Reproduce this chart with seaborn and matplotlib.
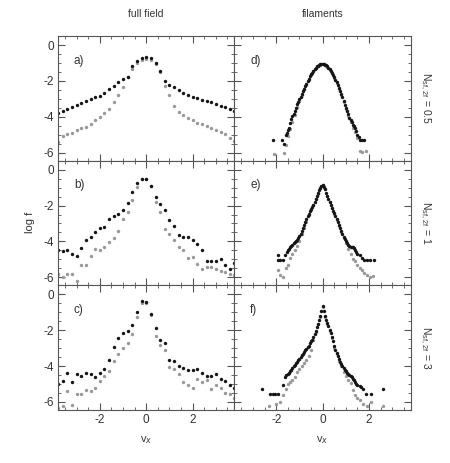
import numpy as np
import matplotlib
matplotlib.use("Agg")
import matplotlib.pyplot as plt
import seaborn as sns
from matplotlib.ticker import MultipleLocator

# ---- full field (left column): binned log f, black = all, grey = second sample
v_bins = np.round(np.arange(-3.8, 3.81, 0.2), 1)

a_black = [-3.79, -3.68, -3.57, -3.46, -3.35, -3.24, -3.13, -3.02, -2.91, -2.82,
           -2.67, -2.47, -2.28, -2.08, -1.90, -1.77, -1.16, -0.88, -0.74, -0.66,
           -0.74, -0.98, -1.47, -1.99, -2.21, -2.36, -2.50, -2.65, -2.76, -2.87,
           -2.96, -3.06, -3.13, -3.20, -3.28, -3.37, -3.46, -3.57, -3.65]
a_grey = [-5.40, -5.05, -4.95, -4.88, -4.75, -4.65, -4.55, -4.40, -4.20, -4.00,
          -3.80, -3.55, -3.20, -2.80, -2.35, -1.80, -1.35, -1.00, -0.85, -0.78,
          -0.85, -1.05, -1.50, -2.30, -2.80, -3.40, -3.72, -3.90, -4.05, -4.20,
          -4.32, -4.40, -4.50, -4.62, -4.75, -4.85, -4.95, -5.20, -5.35]

b_black = [-4.50, -4.53, -4.50, -4.72, -4.83, -4.36, -3.90, -3.78, -3.50, -3.24,
           -3.18, -2.75, -2.57, -2.49, -2.25, -1.87, -1.27, -0.75, -0.50, -0.50,
           -0.90, -1.55, -1.93, -2.25, -2.80, -3.15, -3.65, -3.75, -3.75, -3.93,
           -4.15, -4.50, -5.10, -5.10, -5.10, -4.96, -5.30, -5.52, -5.20]
b_grey = [-5.80, -5.96, -5.84, -5.80, -6.18, -5.34, -5.30, -4.83, -4.44, -4.50,
          -4.30, -4.03, -3.80, -3.43, -2.77, -2.34, -1.69, -0.97, -0.50, -0.50,
          -0.90, -1.82, -2.34, -3.28, -3.61, -3.93, -4.30, -4.46, -4.93, -4.87,
          -5.24, -5.52, -5.43, -5.43, -5.52, -5.65, -5.70, -5.80, -5.90]

c_black = [-4.98, -4.83, -4.36, -4.88, -4.46, -4.55, -4.38, -4.42, -4.60, -4.38,
           -4.14, -3.64, -2.93, -2.43, -2.13, -2.06, -1.72, -0.98, -0.38, -0.42,
           -1.10, -1.85, -2.56, -2.74, -3.64, -3.73, -4.01, -4.10, -4.23, -4.23,
           -4.14, -4.38, -4.57, -4.57, -4.46, -4.70, -4.85, -5.07, -5.20]
c_grey = [-6.35, -6.22, -5.39, -6.19, -5.57, -5.57, -5.31, -5.39, -5.20, -4.85,
          -4.55, -4.27, -3.73, -3.30, -2.99, -2.69, -2.24, -1.26, -0.47, -0.51,
          -1.16, -2.34, -2.84, -3.08, -4.08, -4.14, -4.46, -4.88, -5.07, -5.22,
          -4.70, -4.88, -4.79, -5.26, -5.07, -5.20, -5.53, -5.57, -5.80]

# ---- filaments (right column): fine bins in the core, sparse tails
v_fine = np.round(np.arange(-1.5, 1.501, 0.05), 2)
v_mid = np.round(np.arange(-1.5, 1.501, 0.1), 1)

d_black = [-4.75, -4.60, -4.35, -4.15, -3.95, -3.82, -3.65, -3.50, -3.30, -3.15,
           -3.02, -2.88, -2.72, -2.58, -2.43, -2.30, -2.16, -2.02, -1.88, -1.75,
           -1.63, -1.53, -1.43, -1.34, -1.26, -1.19, -1.14, -1.10, -1.07, -1.05,
           -1.05,
           -1.06, -1.09, -1.13, -1.19, -1.26, -1.35, -1.45, -1.56, -1.68, -1.80,
           -1.93, -2.08, -2.24, -2.40, -2.57, -2.73, -2.90, -3.10, -3.35, -3.50,
           -3.70, -3.85, -4.05, -4.20, -4.30, -4.45, -4.50, -4.65, -4.80, -5.00]
d_grey = [-5.05, -4.70, -4.30, -3.90, -3.45, -3.10, -2.78, -2.47, -2.20, -1.92,
          -1.66, -1.46, -1.28, -1.16, -1.09, -1.06, -1.10, -1.20, -1.37, -1.58,
          -1.83, -2.12, -2.44, -2.78, -3.15, -3.55, -3.95, -4.30, -4.60, -4.85,
          -5.20]
d_tail_x = [-2.15, -1.75, -1.65, -1.60, -1.55, 1.55, 1.62, 1.70, 1.80]
d_tail_y = [-5.30, -5.30, -5.50, -5.00, -4.90, -5.10, -5.30, -5.30, -5.30]
d_gtail_x = [-2.10, -1.65, -1.60, 1.60, 1.70, 1.85]
d_gtail_y = [-6.05, -6.00, -5.60, -5.90, -5.95, -5.90]

e_black = [-4.50, -4.43, -4.33, -4.23, -4.18, -4.10, -4.05, -3.97, -3.90, -3.80,
           -3.70, -3.58, -3.43, -3.27, -3.10, -2.93, -2.75, -2.60, -2.45, -2.33,
           -2.20, -2.08, -1.95, -1.80, -1.63, -1.47, -1.30, -1.15, -1.02, -0.92,
           -0.85,
           -0.95, -1.08, -1.28, -1.45, -1.62, -1.78, -1.95, -2.12, -2.28, -2.43,
           -2.58, -2.74, -2.90, -3.07, -3.24, -3.40, -3.57, -3.73, -3.86, -3.98,
           -4.07, -4.18, -4.28, -4.30, -4.32, -4.30, -4.35, -4.50, -4.60, -4.70]
e_grey = [-5.30, -4.90, -4.70, -4.50, -4.25, -3.95, -3.60, -3.25, -2.90, -2.55,
          -2.25, -1.98, -1.66, -1.33, -1.03, -0.86, -1.10, -1.47, -1.80, -2.15,
          -2.47, -2.80, -3.15, -3.50, -3.82, -4.10, -4.40, -4.70, -4.96, -5.10,
          -5.34]
e_tail_x = [-1.92, -1.92, -1.82, -1.72, -1.62, -1.55, 1.60, 1.70, 1.78, 1.90, 2.05, 2.20]
e_tail_y = [-4.78, -5.06, -5.06, -5.06, -4.75, -4.60, -4.78, -4.90, -5.06, -5.06, -5.06, -5.06]
e_gtail_x = [-1.92, -1.85, -1.70, -1.60, 1.60, 1.70, 1.80, 1.90, 2.02, 2.15]
e_gtail_y = [-5.62, -5.90, -6.00, -5.50, -5.50, -5.62, -5.75, -5.85, -6.00, -5.95]

f_black = [-4.45, -4.37, -4.28, -4.20, -4.10, -4.02, -3.93, -3.85, -3.76, -3.67,
           -3.58, -3.49, -3.40, -3.30, -3.22, -3.13, -3.05, -2.96, -2.86, -2.74,
           -2.63, -2.52, -2.40, -2.20, -2.02, -1.83, -1.63, -1.43, -1.20, -0.95,
           -0.65,
           -0.95, -1.20, -1.42, -1.60, -1.78, -1.97, -2.15, -2.37, -2.63, -2.90,
           -3.10, -3.28, -3.45, -3.60, -3.75, -3.88, -4.00, -4.10, -4.20, -4.30,
           -4.37, -4.45, -4.52, -4.58, -4.63, -4.72, -4.80, -4.90, -4.98, -5.05]
f_grey = [-5.00, -4.87, -4.75, -4.60, -4.35, -4.15, -3.98, -3.82, -3.65, -3.45,
          -3.10, -2.55, -2.08, -1.68, -1.25, -0.70, -1.28, -1.65, -2.05, -2.45,
          -3.00, -3.35, -3.70, -4.00, -4.35, -4.55, -4.75, -4.95, -5.35, -5.60,
          -5.80]
f_tail_x = [-2.63, -2.27, -2.15, -2.05, -1.93, -1.70, -1.63, -1.56, 1.60, 1.66, 1.75, 1.87, 2.09, 2.59]
f_tail_y = [-5.26, -5.58, -5.58, -5.58, -5.58, -5.07, -4.61, -4.50, -5.10, -5.17, -5.30, -5.55, -5.55, -5.26]
f_gtail_x = [-2.30, -2.00, -1.85, -1.70, -1.60, 1.60, 1.73, 1.90, 2.09, 2.60]
f_gtail_y = [-6.20, -6.10, -6.00, -5.60, -5.30, -5.90, -6.10, -6.20, -6.00, -6.25]

panel_tags = ["a)", "d)", "b)", "e)", "c)", "f)"]
col_titles = ["full field", "filaments"]
row_labels = ["0.5", "1", "3"]

BLACK = "#151515"
GREY = "#999999"

sns.set_style("ticks")
plt.rcParams["font.family"] = ["Liberation Sans", "DejaVu Sans"]
plt.rcParams["axes.unicode_minus"] = False
plt.rcParams["mathtext.fontset"] = "custom"
plt.rcParams["mathtext.rm"] = "Liberation Sans"

fig, axes = plt.subplots(3, 2, figsize=(4.5, 4.63), dpi=100, sharex=True, sharey=True)
fig.subplots_adjust(left=0.129, right=0.913, top=0.922, bottom=0.1145,
                    hspace=0, wspace=0)

left_data = [(a_black, a_grey), (b_black, b_grey), (c_black, c_grey)]
right_data = [(d_black, d_grey, d_tail_x, d_tail_y, d_gtail_x, d_gtail_y),
              (e_black, e_grey, e_tail_x, e_tail_y, e_gtail_x, e_gtail_y),
              (f_black, f_grey, f_tail_x, f_tail_y, f_gtail_x, f_gtail_y)]

ms = 6
for r in range(3):
    ax = axes[r, 0]
    blk, gry = left_data[r]
    sns.scatterplot(x=v_bins, y=gry, ax=ax, color=GREY, s=ms, linewidth=0, marker="o")
    sns.scatterplot(x=v_bins, y=blk, ax=ax, color=BLACK, s=ms, linewidth=0, marker="o")

    ax = axes[r, 1]
    blk, gry, tx, ty, gx, gy = right_data[r]
    sns.scatterplot(x=v_mid, y=gry, ax=ax, color=GREY, s=ms, linewidth=0, marker="o")
    sns.scatterplot(x=gx, y=gy, ax=ax, color=GREY, s=ms, linewidth=0, marker="o")
    sns.scatterplot(x=v_fine, y=blk, ax=ax, color=BLACK, s=ms, linewidth=0, marker="o")
    sns.scatterplot(x=tx, y=ty, ax=ax, color=BLACK, s=ms, linewidth=0, marker="o")

for i, ax in enumerate(axes.flat):
    ax.set_xlim(-3.8, 3.8)
    ax.set_ylim(-6.45, 0.5)
    ax.xaxis.set_major_locator(MultipleLocator(2))
    ax.xaxis.set_minor_locator(MultipleLocator(0.5))
    ax.yaxis.set_major_locator(MultipleLocator(2))
    ax.yaxis.set_minor_locator(MultipleLocator(0.5))
    ax.tick_params(which="both", direction="in", top=True, right=True,
                   color="#555555", labelsize=8.5, labelcolor="#333333", pad=3)
    ax.tick_params(which="major", length=5, width=0.8)
    ax.tick_params(which="minor", length=2.5, width=0.6)
    for sp in ax.spines.values():
        sp.set_color("#555555")
        sp.set_linewidth(0.8)
        sp.set_visible(True)
    ax.set_xlabel("")
    ax.set_ylabel("")
    ax.text(0.09, 0.78, panel_tags[i], transform=ax.transAxes, fontsize=8.5,
            color="#333333")

for r in range(3):
    axes[r, 0].set_yticks([0, -2, -4, -6])
    axes[r, 0].set_yticklabels(["0", "-2", "-4", "-6"])
    axes[r, 1].tick_params(labelleft=False)
    axes[r, 1].text(1.08, 0.5, r"N$_{\rm sf,\,2f}$ = " + row_labels[r],
                    transform=axes[r, 1].transAxes, rotation=-90,
                    ha="center", va="center", fontsize=7.5, color="#333333")
for c in range(2):
    axes[2, c].set_xticks([-2, 0, 2])
    axes[2, c].set_xticklabels(["-2", "0", "2"])
    axes[2, c].set_xlabel(r"v$_x$", fontsize=8, color="#333333", labelpad=6)
    axes[0, c].set_title(col_titles[c], fontsize=7.5, color="#333333", pad=14)

fig.text(0.066, 0.52, "log f", rotation=90, ha="center", va="center",
         fontsize=8, color="#333333")

fig.savefig("out.png", dpi=100)
